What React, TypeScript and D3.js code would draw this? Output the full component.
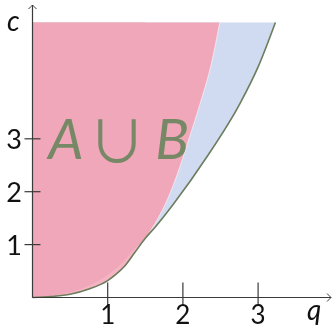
import React from 'react';
import * as d3 from 'd3';

// boundary of B (green curve) as (q, c)
const curveBQ = [0, 0.25, 0.5, 0.75, 1.0, 1.12, 1.23, 1.36, 1.5, 1.63, 1.87, 2.32, 2.76, 3.0, 3.23];
const curveBC = [0, 0.02, 0.06, 0.16, 0.32, 0.45, 0.6, 0.85, 1.12, 1.33, 1.76, 2.66, 3.67, 4.36, 5.2];

// boundary of A (pink / blue edge)
const curveAQ = [0, 0.33, 0.77, 1.03, 1.21, 1.34, 1.5, 1.67, 1.79, 1.96, 2.09, 2.23, 2.38, 2.49];
const curveAC = [0, 0.047, 0.236, 0.457, 0.677, 0.9, 1.12, 1.5, 1.84, 2.47, 3.04, 3.67, 4.43, 5.2];

const xTicks = [1, 2, 3];
const yTicks = [1, 2, 3];
const cTop = 5.2;
const meetQ = 1.5;

const W = 334;
const H = 329;

const App = () => {
  const x = d3.scaleLinear().domain([0, 1]).range([32.5, 107.7]);
  const y = d3.scaleLinear().domain([0, 1]).range([297.5, 244.6]);

  const ptsB: [number, number][] = curveBQ.map((q, i) => [q, curveBC[i]]);
  const ptsA: [number, number][] = curveAQ.map((q, i) => [q, curveAC[i]]);

  const area = d3.area<[number, number]>()
    .x(d => x(d[0]))
    .y0(y(cTop))
    .y1(d => y(d[1]))
    .curve(d3.curveMonotoneX);

  const line = d3.line<[number, number]>()
    .x(d => x(d[0]))
    .y(d => y(d[1]))
    .curve(d3.curveMonotoneX);

  const axisColor = '#3a3a3a';
  const green = '#6b7d5c';
  const x0 = x(0);
  const y0 = y(0);
  const xEnd = 331;
  const yEnd = 5;

  return (
    <svg width={W} height={H} style={{ position: 'fixed', left: 0, top: 0 }}>
      {/* B region */}
      <path d={area(ptsB) || ''} fill="#d0dbf2" />
      {/* lighter band where the two curves split near the bottom */}
      <path d={area(ptsB.filter(p => p[0] <= meetQ)) || ''} fill="#f5b4c4" />
      {/* A region */}
      <path d={area(ptsA) || ''} fill="#f0a7ba" />
      <path d={line(ptsA.filter(p => p[0] >= meetQ)) || ''} fill="none" stroke="#fff" strokeOpacity={0.7} strokeWidth={0.8} />
      <path d={line(ptsB) || ''} fill="none" stroke={green} strokeWidth={1.6} />

      {/* axes */}
      <line x1={x0} y1={y0} x2={xEnd} y2={y0} stroke={axisColor} strokeWidth={1.2} />
      <line x1={x0} y1={y0} x2={x0} y2={yEnd} stroke={axisColor} strokeWidth={1.2} />
      <path d={`M${xEnd - 4},${y0 - 4} Q${xEnd - 1},${y0 - 1} ${xEnd},${y0} Q${xEnd - 1},${y0 + 1} ${xEnd - 4},${y0 + 4}`} fill="none" stroke={axisColor} strokeWidth={1} />
      <path d={`M${x0 - 4},${yEnd + 4} Q${x0 - 1},${yEnd + 1} ${x0},${yEnd} Q${x0 + 1},${yEnd + 1} ${x0 + 4},${yEnd + 4}`} fill="none" stroke={axisColor} strokeWidth={1} />

      {xTicks.map(t => (
        <g key={'x' + t}>
          <line x1={x(t)} x2={x(t)} y1={y0 - 15} y2={y0 + 8} stroke={axisColor} strokeWidth={1.2} />
          <text x={x(t)} y={324} textAnchor="middle" fontFamily="Lato" fontSize={26} fill="#111">{t}</text>
        </g>
      ))}
      {yTicks.map(t => (
        <g key={'y' + t}>
          <line x1={x0 - 8} x2={x0 + 8} y1={y(t)} y2={y(t)} stroke={axisColor} strokeWidth={1.2} />
          <text x={22} y={y(t) + 10} textAnchor="end" fontFamily="Lato" fontSize={27} fill="#111">{t}</text>
        </g>
      ))}

      <text x={7} y={31} fontFamily="Lato" fontStyle="italic" fontSize={28} fill="#111">c</text>
      <text x={307} y={320} fontFamily="Lato" fontStyle="italic" fontSize={28} fill="#111">q</text>

      <g fill="#778866">
        <text x={66} y={159} textAnchor="middle" fontFamily="Lato" fontStyle="italic" fontSize={56}>A</text>
        <text x={117} y={163} textAnchor="middle" fontFamily="Noto Sans CJK JP" fontSize={58}>∪</text>
        <text x={172} y={159} textAnchor="middle" fontFamily="Lato" fontStyle="italic" fontSize={56}>B</text>
      </g>
    </svg>
  );
};

export default App;
